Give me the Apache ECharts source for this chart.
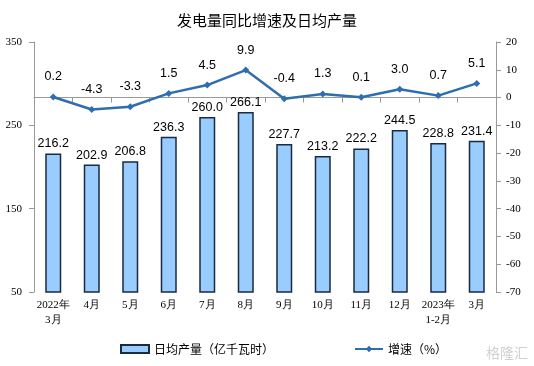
<!DOCTYPE html>
<html>
<head>
<meta charset="utf-8">
<script src="https://cdn.jsdelivr.net/npm/echarts@6/dist/echarts.min.js"></script>
<style>
html,body{margin:0;padding:0;background:#fff;}
#c{width:534px;height:366px;}
</style>
</head>
<body>
<div id="c"></div>
<script>
var categories = ['2022年\n3月','4月','5月','6月','7月','8月','9月','10月','11月','12月','2023年\n1-2月','3月'];
var dailyOutput = [216.2, 202.9, 206.8, 236.3, 260.0, 266.1, 227.7, 213.2, 222.2, 244.5, 228.8, 231.4];
var growthRate = [0.2, -4.3, -3.3, 1.5, 4.5, 9.9, -0.4, 1.3, 0.1, 3.0, 0.7, 5.1];
var leftTicks = [50, 150, 250, 350];
var rightTicks = [-70, -60, -50, -40, -30, -20, -10, 0, 10, 20];

var chart = echarts.init(document.getElementById('c'));
var serif = '"Liberation Serif","DejaVu Serif",serif';
var cjk = '"Noto Sans CJK SC","Noto Sans",sans-serif';
chart.setOption({
  animation: false,
  title: {
    text: '发电量同比增速及日均产量',
    left: 'center', top: 8,
    textStyle: {fontFamily: cjk, fontSize: 15, fontWeight: 'normal', color: '#000'}
  },
  legend: {
    bottom: 6, left: 115, itemGap: 80,
    textStyle: {fontFamily: cjk, fontSize: 12, color: '#000'},
    data: [
      {name: '日均产量（亿千瓦时）', icon: 'rect'},
      {name: '增速（%）'}
    ],
    itemWidth: 28, itemHeight: 8
  },
  grid: {left: 34, right: 38, top: 42, bottom: 74},
  xAxis: {
    type: 'category', data: categories,
    axisLine: {lineStyle: {color: '#999'}},
    axisTick: {show: true, alignWithLabel: false, lineStyle: {color: '#999'}},
    axisLabel: {fontFamily: serif, fontSize: 11, color: '#000', interval: 0, lineHeight: 15, margin: 6}
  },
  yAxis: [
    {
      type: 'value', min: leftTicks[0], max: leftTicks[leftTicks.length-1], interval: 100,
      splitLine: {show: false},
      axisLine: {show: true, lineStyle: {color: '#999'}},
      axisTick: {show: true, lineStyle: {color: '#999'}},
      axisLabel: {fontFamily: serif, fontSize: 11, color: '#000', margin: 12}
    },
    {
      type: 'value', min: rightTicks[0], max: rightTicks[rightTicks.length-1], interval: 10,
      splitLine: {show: false},
      axisLine: {show: true, lineStyle: {color: '#999'}},
      axisTick: {show: true, lineStyle: {color: '#999'}},
      axisLabel: {fontFamily: serif, fontSize: 11, color: '#000', margin: 10}
    }
  ],
  series: [
    {
      name: '日均产量（亿千瓦时）', type: 'bar', data: dailyOutput, barWidth: 16,
      itemStyle: {color: '#99CCFF', borderColor: '#1a2a40', borderWidth: 1.5},
      label: {show: true, position: 'top', distance: 3, fontFamily: '"Liberation Sans",Arial,sans-serif', fontSize: 12.5, color: '#000',
        formatter: function(p){return p.value.toFixed(1);}}
    },
    {
      name: '增速（%）', type: 'line', yAxisIndex: 1, data: growthRate,
      symbol: 'diamond', symbolSize: 7,
      lineStyle: {color: '#2E6DAE', width: 2.5},
      itemStyle: {color: '#2E6DAE'},
      label: {show: true, position: 'top', distance: 10, fontFamily: '"Liberation Sans",Arial,sans-serif', fontSize: 12.5, color: '#000',
        formatter: function(p){return p.value.toFixed(1);}}
    }
  ],
  graphic: [{
    type: 'text', right: 6, bottom: 6,
    style: {text: '格隆汇', fontFamily: cjk, fontSize: 14, fill: '#d0d0d0'}
  }]
});
</script>
</body>
</html>
